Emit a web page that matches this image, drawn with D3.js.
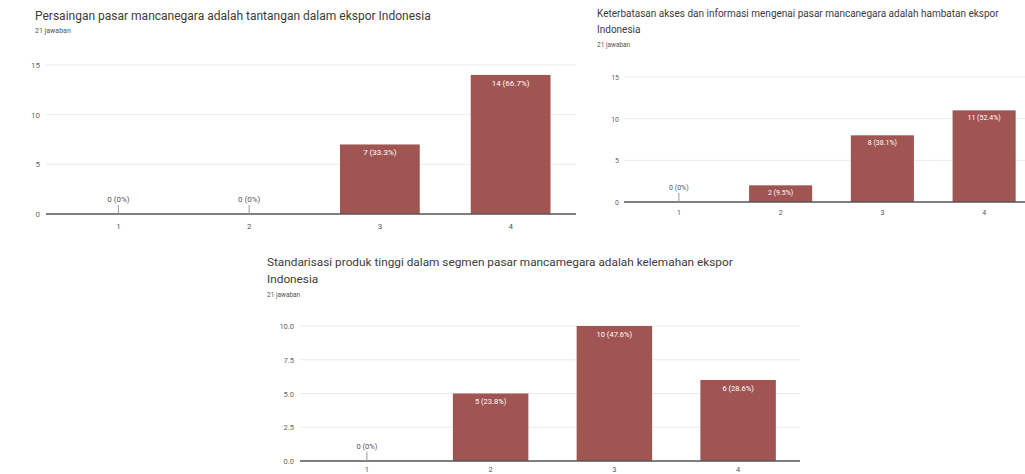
<!DOCTYPE html>
<html>
<head>
<meta charset="utf-8">
<script src="https://cdn.jsdelivr.net/npm/d3@7"></script>
<style>
  html, body { margin: 0; padding: 0; background: #fff; }
  svg { display: block; font-family: Roboto, "Noto Sans", Arial, sans-serif; }
</style>
</head>
<body>
<svg id="chart" width="1025" height="474"></svg>
<script>
// ---------- DATA ----------
const categories = ["1", "2", "3", "4"];
const responses = "21 jawaban";

const title1 = ["Persaingan pasar mancanegara adalah tantangan dalam ekspor Indonesia"];
const values1 = [0, 0, 7, 14];
const labels1 = ["0 (0%)", "0 (0%)", "7 (33.3%)", "14 (66.7%)"];
const ticks1 = [0, 5, 10, 15];
const tickLabels1 = ["0", "5", "10", "15"];

const title2 = ["Keterbatasan akses dan informasi mengenai pasar mancanegara adalah hambatan ekspor", "Indonesia"];
const values2 = [0, 2, 8, 11];
const labels2 = ["0 (0%)", "2 (9.5%)", "8 (38.1%)", "11 (52.4%)"];
const ticks2 = [0, 5, 10, 15];
const tickLabels2 = ["0", "5", "10", "15"];

const title3 = ["Standarisasi produk tinggi dalam segmen pasar mancamegara adalah kelemahan ekspor", "Indonesia"];
const values3 = [0, 5, 10, 6];
const labels3 = ["0 (0%)", "5 (23.8%)", "10 (47.6%)", "6 (28.6%)"];
const ticks3 = [0, 2.5, 5, 7.5, 10];
const tickLabels3 = ["0.0", "2.5", "5.0", "7.5", "10.0"];

// ---------- LAYOUT ----------
const BAR = "#a05552";
const svg = d3.select("#chart");
svg.append("rect").attr("width", 1025).attr("height", 474).attr("fill", "#fff");

function drawChart(o) {
  const g = svg.append("g");
  // title
  o.title.forEach((t, i) => {
    g.append("text").attr("x", o.tx).attr("y", o.ty + i * o.tlh)
      .attr("font-size", o.tfs).attr("fill", "#3c3c3c").text(t);
  });
  g.append("text").attr("x", o.tx).attr("y", o.ty + (o.title.length - 1) * o.tlh + o.sub)
    .attr("font-size", o.sfs).attr("fill", "#555").text(responses);

  const x = d3.scaleBand().domain(categories).range([o.x0, o.x1])
    .paddingInner(o.pad).paddingOuter(o.pad / 2);
  const y = d3.scaleLinear().domain(o.domain).range([o.y0, o.y1]);

  // grid
  g.selectAll(".grid").data(o.ticks.filter(d => d !== 0)).join("line")
    .attr("x1", o.gx0).attr("x2", o.x1).attr("y1", d => y(d)).attr("y2", d => y(d))
    .attr("stroke", "#ebebeb").attr("stroke-width", 1);

  // y tick labels
  g.selectAll(".yl").data(o.ticks).join("text")
    .attr("x", o.ylx).attr("y", d => y(d) + 3).attr("text-anchor", "end")
    .attr("font-size", o.lfs).attr("fill", "#666")
    .text((d, i) => o.tickLabels[i]);

  // bars
  g.selectAll(".bar").data(o.values).join("rect")
    .attr("x", (d, i) => x(categories[i])).attr("width", x.bandwidth())
    .attr("y", d => y(d)).attr("height", d => o.y0 - y(d))
    .attr("fill", BAR);

  // baseline
  g.append("line").attr("x1", o.gx0).attr("x2", o.x1).attr("y1", o.y0).attr("y2", o.y0)
    .attr("stroke", "#555").attr("stroke-width", 1.3);

  // value labels
  o.values.forEach((v, i) => {
    const cx = x(categories[i]) + x.bandwidth() / 2;
    if (v === 0) {
      g.append("line").attr("x1", cx).attr("x2", cx).attr("y1", o.y0 - 9).attr("y2", o.y0)
        .attr("stroke", "#999").attr("stroke-width", 1);
      g.append("text").attr("x", cx).attr("y", o.y0 - 12).attr("text-anchor", "middle")
        .attr("font-size", o.lfs).attr("fill", "#555").text(o.labels[i]);
    } else {
      g.append("text").attr("x", cx).attr("y", y(v) + o.lfs + 3).attr("text-anchor", "middle")
        .attr("font-size", o.lfs).attr("fill", "#fff").text(o.labels[i]);
    }
  });

  // x tick labels
  g.selectAll(".xl").data(categories).join("text")
    .attr("x", d => x(d) + x.bandwidth() / 2).attr("y", o.y0 + o.xly)
    .attr("text-anchor", "middle").attr("font-size", o.lfs).attr("fill", "#555").text(d => d);
}

drawChart({
  title: title1, tx: 35, ty: 20, tlh: 16, tfs: 12, sub: 13, sfs: 7,
  values: values1, labels: labels1, ticks: ticks1, tickLabels: tickLabels1,
  domain: [0, 15], x0: 53, x1: 576, gx0: 46, pad: 0.39, y0: 214, y1: 65, ylx: 40, lfs: 8, xly: 15
});
drawChart({
  title: title2, tx: 597, ty: 17, tlh: 16, tfs: 10, sub: 14, sfs: 6.5,
  values: values2, labels: labels2, ticks: ticks2, tickLabels: tickLabels2,
  domain: [0, 15], x0: 628, x1: 1035, gx0: 624, pad: 0.38, y0: 202, y1: 77, ylx: 619, lfs: 7, xly: 13
});
drawChart({
  title: title3, tx: 267, ty: 266, tlh: 17, tfs: 11.8, sub: 14, sfs: 6.5,
  values: values3, labels: labels3, ticks: ticks3, tickLabels: tickLabels3,
  domain: [0, 10], x0: 305, x1: 800, gx0: 300, pad: 0.39, y0: 461, y1: 326, ylx: 294, lfs: 7.5, xly: 11
});
</script>
</body>
</html>
